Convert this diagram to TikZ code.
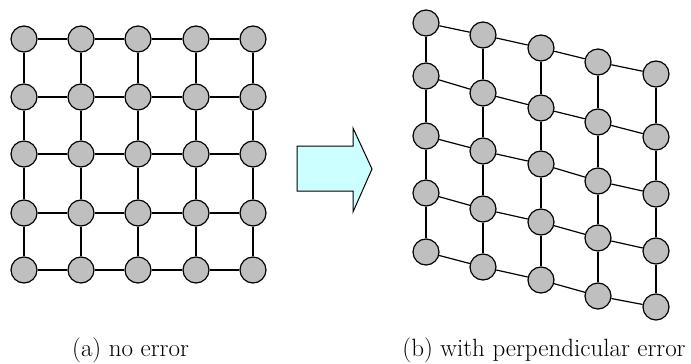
\documentclass[tikz,border=0pt]{standalone}
\begin{document}
\begin{tikzpicture}[x=1pt,y=-1pt,
  site/.style={circle,draw=black,fill=gray!50!white,line width=1.2pt,minimum size=26pt,inner sep=0pt},
  link/.style={draw=black,line width=1.2pt},
  caption/.style={font=\fontsize{25pt}{30pt}\selectfont,inner sep=0pt}]
\useasboundingbox (0,0) rectangle (691,364);
\definecolor{arrowfill}{HTML}{CCFFFF}

% (a) regular lattice
\foreach \x [count=\c from 0] in {24,81,138,196,253}
  \foreach \y [count=\r from 0] in {39,97,154,213,270}
    \node[site] (a-\c-\r) at (\x,\y) {};

% (b) lattice with perpendicular error: each column keeps its x, rows drift
\foreach \y [count=\r from 0] in {23,76,136,193,252}
  \node[site] (b-0-\r) at (426,\y) {};
\foreach \y [count=\r from 0] in {35,93,151,209,267}
  \node[site] (b-1-\r) at (483,\y) {};
\foreach \y [count=\r from 0] in {48,108,164,222,280}
  \node[site] (b-2-\r) at (541,\y) {};
\foreach \y [count=\r from 0] in {62,122,181,238,296}
  \node[site] (b-3-\r) at (598,\y) {};
\foreach \y [count=\r from 0] in {74,137,194,251,307}
  \node[site] (b-4-\r) at (656,\y) {};

% connections of both lattices, stopping at the circle borders
\foreach \g in {a,b}
  \foreach \c in {0,1,2,3,4}
    \foreach \r/\s in {0/1,1/2,2/3,3/4} {
      \path[link] (\g-\c-\r) -- (\g-\c-\s);
      \path[link] (\g-\r-\c) -- (\g-\s-\c);
    }

% block arrow
\draw[line width=1pt,fill=arrowfill,line join=miter]
  (297,146) -- (353,146) -- (353,128) -- (372,169) -- (353,212) -- (353,191) -- (297,191) -- cycle;

\node[caption] (capa) at (130.5,350) {(a) no error};
\node[caption] (capb) at (544,350) {(b) with perpendicular error};
\end{tikzpicture}
\end{document}
